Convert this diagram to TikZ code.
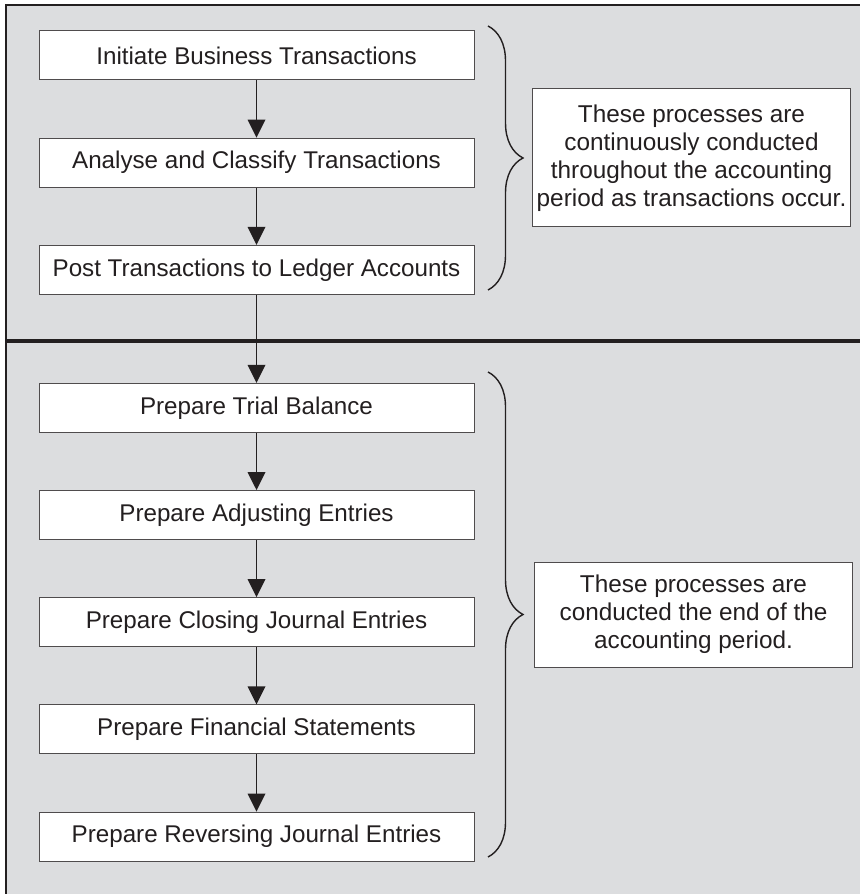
\documentclass[tikz,border=0pt]{standalone}
\usepackage{fontspec}
\setmainfont{Liberation Sans}
\usetikzlibrary{positioning,arrows.meta,decorations.pathreplacing}

\definecolor{panelgray}{RGB}{220,221,223}
\definecolor{inkgray}{RGB}{35,31,32}

\tikzset{
	stepbox/.style={draw=inkgray!80, line width=0.7pt, fill=white, text=inkgray,
		minimum width=10.875cm, minimum height=1.225cm, inner sep=0pt,
		font=\fontsize{17.2}{19.8}\selectfont},
	notebox/.style={draw=inkgray!80, line width=0.7pt, fill=white, text=inkgray,
		align=center, inner sep=0pt, font=\fontsize{17.3}{19.8}\selectfont},
	flow/.style={line width=1.1pt, draw=inkgray, -{Triangle[width=0.44cm,length=0.45cm]}},
	curly/.style={decorate, decoration={brace, amplitude=0.875cm}, line width=1pt, draw=inkgray}
}

\begin{document}
\begin{tikzpicture}
			\useasboundingbox (0,0) rectangle (21.5,22.35);
			\fill[panelgray] (0.15,0) rectangle (21.5,22.225);
			\draw[line width=1.1pt, inkgray] (0.15,0)--(0.15,22.225)--(21.5,22.225);
			\draw[line width=2.2pt, inkgray] (0.15,13.825)--(21.5,13.825);
			%%%%%%%%%%%%%%%%%%%%%%%%%%%%%%%%
			\node[stepbox] (initiate) at (6.4125,20.9625){Initiate Business Transactions};
			\node[stepbox, below=1.43cm of initiate] (classify){Analyse and Classify Transactions};
			\node[stepbox, below=1.43cm of classify] (post){Post Transactions to Ledger Accounts};
			\node[stepbox, below=2.2cm of post] (trial){Prepare Trial Balance};
			\node[stepbox, below=1.43cm of trial] (adjust){Prepare Adjusting Entries};
			\node[stepbox, below=1.43cm of adjust] (closing){Prepare Closing Journal Entries};
			\node[stepbox, below=1.43cm of closing] (financial){Prepare Financial Statements};
			\node[stepbox, below=1.43cm of financial] (reversing){Prepare Reversing Journal Entries};
			%%%%%%%%%%%%%%%%%%%%%%%%%%%%%
			\draw[flow] (initiate) -- (classify);
			\draw[flow] (classify) -- (post);
			\draw[flow] (post) -- (trial);
			\draw[flow] (trial) -- (adjust);
			\draw[flow] (adjust) -- (closing);
			\draw[flow] (closing) -- (financial);
			\draw[flow] (financial) -- (reversing);
			%%%%%%%%%%%%%%%%%%%%%%%%%%%%%
			\draw[curly] (12.2,21.7) -- (12.2,15.1);
			\coordinate (toptip) at (13.075,18.4);
			\draw[curly] (12.2,13.05) -- (12.2,0.925);
			\coordinate (bottomtip) at (13.075,6.9875);
			\node[notebox, anchor=west, right=0.225cm of toptip, minimum width=7.95cm, minimum height=3.45cm] (during){These processes are\\continuously conducted\\throughout the accounting\\period as transactions occur.};
			\node[notebox, anchor=west, right=0.275cm of bottomtip, minimum width=7.95cm, minimum height=2.625cm] (closingnote){These processes are\\conducted the end of the\\accounting period.};
		\end{tikzpicture}
\end{document}
